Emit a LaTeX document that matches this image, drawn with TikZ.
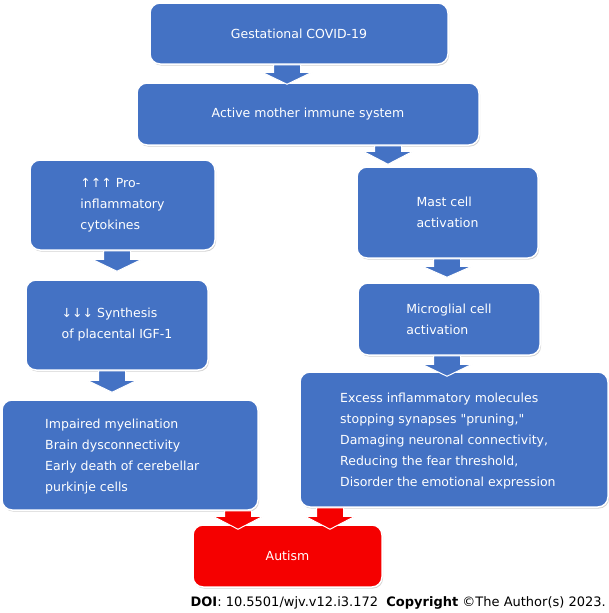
\documentclass[tikz,border=0pt]{standalone}
\usepackage{fontspec}
\setmainfont{DejaVu Sans}[Ligatures=TeXOff]
\usetikzlibrary{shadows,calc}
\definecolor{boxblue}{HTML}{4472C4}
\definecolor{boxred}{HTML}{F50000}
\tikzset{
  boxtext/.style={text=white, align=left, font=\fontsize{12.5}{21}\selectfont, inner sep=0pt},
  box/.style={boxtext, draw=white, line width=1.5pt, fill=boxblue, rounded corners=10pt,
    drop shadow={shadow xshift=1pt,shadow yshift=-1.5pt,opacity=0.35}},
  redbox/.style={box, fill=boxred},
  barrow/.style={fill=boxblue, draw=white, line width=1pt, line join=miter},
  rarrow/.style={barrow, fill=boxred},
}
% #1 style, #2 from node, #3 to node, #4 x position, #5 overshoot of the tip, #6 head length
\newcommand\blockarr[6]{%
  \draw[#1] let \p1=(#2.south -| #4,0), \p2=(#3.north -| #4,0) in
    ({\x1-13.5pt},{\y1}) -- ({\x1+13.5pt},{\y1}) -- ({\x1+13.5pt},{\y2-#5+#6}) --
    ({\x1+25pt},{\y2-#5+#6}) -- ({\x1},{\y2-#5}) -- ({\x1-25pt},{\y2-#5+#6}) --
    ({\x1-13.5pt},{\y2-#5+#6}) -- cycle;}
\begin{document}
\begin{tikzpicture}[x=1pt,y=-1pt]
\useasboundingbox (0,0) rectangle (609,613);
\node[box, minimum width=298pt, minimum height=61pt] (gest) at (299,33.5) {Gestational COVID-19};
\node[box, minimum width=342pt, minimum height=62pt] (immune) at (308,114) {Active mother immune system};
\node[box, minimum width=185pt, minimum height=90pt] (pro) at (122.5,205) {↑↑↑ Pro-\\inflammatory\\cytokines};
\node[box, minimum width=182pt, minimum height=90pt] (synth) at (117,325) {↓↓↓ Synthesis\\of placental IGF-1};
\node[box, minimum width=256pt, minimum height=110pt] (impair) at (130,455) {};
\node[boxtext, anchor=west] (impairT) at (45,456.5) {Impaired myelination\\Brain dysconnectivity\\Early death of cerebellar\\purkinje cells};
\node[box, minimum width=181pt, minimum height=91pt] (mast) at (447.5,212.5) {Mast cell\\activation};
\node[box, minimum width=182pt, minimum height=72pt] (micro) at (449,319) {Microglial cell\\activation};
\node[box, minimum width=308pt, minimum height=135pt] (excess) at (454,439.5) {};
\node[boxtext, anchor=west] (excessT) at (340,441) {Excess inflammatory molecules\\stopping synapses "pruning,"\\Damaging neuronal connectivity,\\Reducing the fear threshold,\\Disorder the emotional expression};
\node[redbox, minimum width=189pt, minimum height=62pt] (autism) at (287.5,556) {Autism};
\blockarr{barrow}{gest}{immune}{287}{2pt}{12pt}
\blockarr{barrow}{immune}{mast}{388}{-2pt}{13pt}
\blockarr{barrow}{mast}{micro}{447}{-5pt}{11pt}
\blockarr{barrow}{micro}{excess}{447}{5pt}{12pt}
\blockarr{barrow}{pro}{synth}{117}{-8pt}{12pt}
\blockarr{barrow}{synth}{impair}{112}{-7pt}{12pt}
\blockarr{rarrow}{impair}{autism}{238}{5pt}{13pt}
\blockarr{rarrow}{excess}{autism}{330}{5pt}{13pt}
\node[anchor=base east, font=\fontsize{13}{14}\selectfont, inner sep=0pt] (doi) at (606,606)
  {\textbf{DOI}: 10.5501/wjv.v12.i3.172\ \ \textbf{Copyright} ©The Author(s) 2023.};
\end{tikzpicture}
\end{document}
